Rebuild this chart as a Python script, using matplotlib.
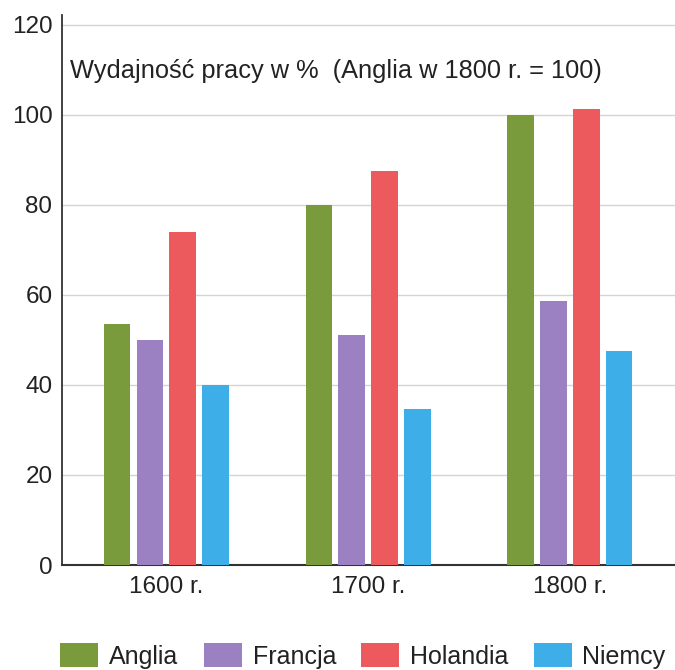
import matplotlib
matplotlib.use("Agg")
import matplotlib.pyplot as plt
import numpy as np

plt.rcParams['font.family'] = ['Liberation Sans', 'DejaVu Sans']

categories = ["1600 r.", "1700 r.", "1800 r."]
series_names = ["Anglia", "Francja", "Holandia", "Niemcy"]
anglia = [53.5, 80, 100]
francja = [50, 51, 58.7]
holandia = [74, 87.6, 101.3]
niemcy = [40, 34.6, 47.6]
yticks = [0, 20, 40, 60, 80, 100, 120]
title = "Wydajność pracy w %  (Anglia w 1800 r. = 100)"

colors = ["#7a9b3c", "#9b80c2", "#ec5a5e", "#3eaee8"]
values = [anglia, francja, holandia, niemcy]

fig = plt.figure(figsize=(6.75, 6.70), dpi=100)
ax = fig.add_axes([0.092, 0.1567, 0.908, 0.821])

x = np.arange(len(categories))
step = 0.163
width = 0.130
for i, (name, vals, c) in enumerate(zip(series_names, values, colors)):
    ax.bar(x + (i - 1.5) * step, vals, width=width, color=c, label=name, zorder=3)

ax.set_xlim(-0.515, 2.52)
ax.set_ylim(0, 122.2)
ax.set_yticks(yticks)
ax.set_yticklabels([str(v) for v in yticks])
ax.set_xticks(x)
ax.set_xticklabels(categories)
ax.tick_params(axis='both', length=0, labelsize=17.5, colors="#222222")
ax.tick_params(axis='y', pad=7)
ax.tick_params(axis='x', pad=8)
ax.yaxis.grid(True, color="#d4d4d4", linewidth=1.0, zorder=0)
ax.set_axisbelow(True)
for s in ["top", "right"]:
    ax.spines[s].set_visible(False)
ax.spines["left"].set_color("#333333")
ax.spines["left"].set_linewidth(1.3)
ax.spines["bottom"].set_color("#333333")
ax.spines["bottom"].set_linewidth(1.5)

ax.text(70 / 675, 1 - 78 / 670, title, transform=fig.transFigure,
        fontsize=18.3, color="#222222", va="baseline", ha="left")

handles, labels = ax.get_legend_handles_labels()
fig.legend(handles, labels, loc="center", ncol=4, frameon=False,
           bbox_to_anchor=(363 / 675, 1 - 656 / 670), fontsize=18,
           handlelength=1.52, handleheight=1.04, handletextpad=0.44,
           columnspacing=1.0, labelcolor="#222222", borderpad=0.2)

fig.savefig("out.png", dpi=100, facecolor="white")
